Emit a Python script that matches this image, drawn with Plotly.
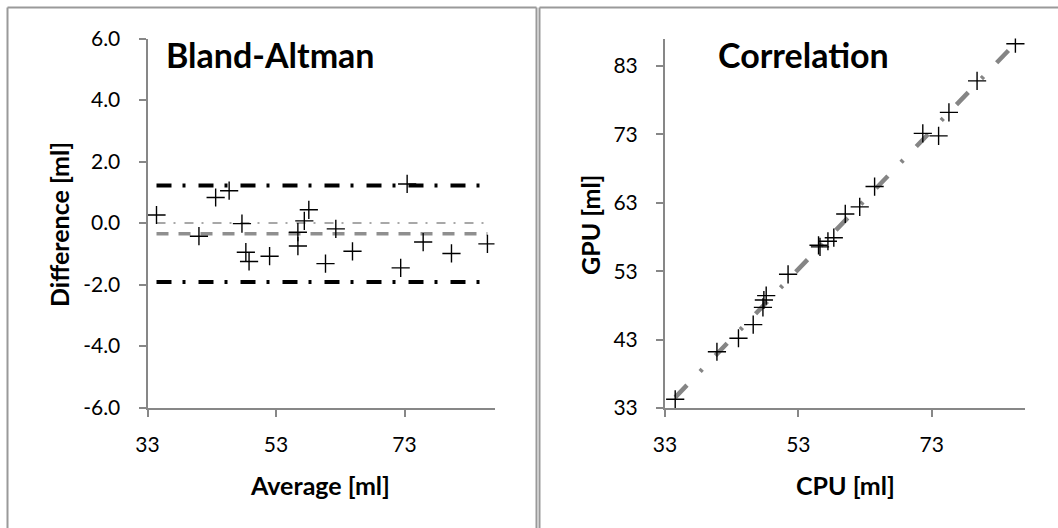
import numpy as np
import plotly.graph_objects as go

# Paired volume measurements [ml]
cpu = [34.53, 40.79, 44.02, 46.23, 47.69, 47.83, 48.18, 51.46, 56.03, 56.25,
       57.44, 58.32, 60.04, 62.21, 64.44, 71.67, 74.04, 75.59, 79.81, 85.56]
gpu = [34.27, 41.22, 43.19, 45.18, 47.71, 48.78, 49.43, 52.54, 56.78, 56.55,
       57.37, 57.89, 61.36, 62.40, 65.36, 73.13, 72.77, 76.21, 80.80, 86.24]

# Bland-Altman statistics
bias = -0.35
loa_upper = 1.22
loa_lower = -1.92

# Axis ticks
x_ticks = [33, 53, 73]
ba_y_ticks = [-6, -4, -2, 0, 2, 4, 6]
ba_y_labels = ["-6.0", "-4.0", "-2.0", "0.0", "2.0", "4.0", "6.0"]
corr_y_ticks = [33, 43, 53, 63, 73, 83]

cpu_a = np.array(cpu)
gpu_a = np.array(gpu)
average = (cpu_a + gpu_a) / 2
difference = cpu_a - gpu_a
slope, intercept = np.polyfit(cpu_a, gpu_a, 1)

W, H = 1058, 528
FONT = "Lato"
AXIS_GREY = "#878787"


def px_x(p):
    return p / W


def px_y(p):
    return 1 - p / H


fig = go.Figure()

x_lo, x_hi = average.min(), average.max()

# zero reference line
fig.add_trace(go.Scatter(x=[x_lo, x_hi], y=[0, 0], mode="lines",
                         line=dict(color="#a8a8a8", width=2, dash="9px,8px,2px,9px"),
                         xaxis="x", yaxis="y", hoverinfo="skip"))
# bias
fig.add_trace(go.Scatter(x=[x_lo, x_hi], y=[bias, bias], mode="lines",
                         line=dict(color="#8f8f8f", width=3.5, dash="12px,10px"),
                         xaxis="x", yaxis="y", hoverinfo="skip"))
# limits of agreement
for lim in (loa_upper, loa_lower):
    fig.add_trace(go.Scatter(x=[x_lo, x_hi], y=[lim, lim], mode="lines",
                             line=dict(color="#000000", width=4, dash="15px,11px,3px,13px"),
                             xaxis="x", yaxis="y", hoverinfo="skip"))

fig.add_trace(go.Scatter(x=average, y=difference, mode="markers",
                         marker=dict(symbol="cross-thin", size=13,
                                     line=dict(color="#000000", width=1.4)),
                         xaxis="x", yaxis="y"))

# regression line for the correlation panel
fx = np.array([cpu_a.min(), cpu_a.max()])
fig.add_trace(go.Scatter(x=fx, y=slope * fx + intercept, mode="lines",
                         line=dict(color="#858585", width=4.5, dash="17px,19px,3px,19px"),
                         xaxis="x2", yaxis="y2", hoverinfo="skip"))
fig.add_trace(go.Scatter(x=cpu_a, y=gpu_a, mode="markers",
                         marker=dict(symbol="cross-thin", size=13,
                                     line=dict(color="#000000", width=1.4)),
                         xaxis="x2", yaxis="y2"))

axis_common = dict(showgrid=False, zeroline=False, showline=True, automargin=False,
                   linecolor=AXIS_GREY, linewidth=2, ticks="outside",
                   ticklen=7, tickwidth=1.5, tickcolor=AXIS_GREY,
                   tickfont=dict(family=FONT, size=21, color="#000000"))

fig.update_layout(
    template="none",
    width=W, height=H,
    margin=dict(l=0, r=0, t=0, b=0, pad=0, autoexpand=False),
    paper_bgcolor="white", plot_bgcolor="white",
    showlegend=False,
    xaxis=dict(domain=[px_x(147.5), px_x(494.5)], range=[33, 87],
               tickvals=x_ticks, anchor="y", ticklabelstandoff=10, **axis_common),
    yaxis=dict(domain=[px_y(407.5), px_y(38.5)], range=[-6, 6],
               tickvals=ba_y_ticks, ticktext=ba_y_labels, anchor="x",
               ticklabelstandoff=14, **axis_common),
    xaxis2=dict(domain=[px_x(665), px_x(1025)], range=[33, 87],
                tickvals=x_ticks, anchor="y2", ticklabelstandoff=10, **axis_common),
    yaxis2=dict(domain=[px_y(408), px_y(38.5)], range=[33, 87],
                tickvals=corr_y_ticks, anchor="x2", ticklabelstandoff=14, **axis_common),
)

# panel frames (open at the bottom and at the right edge)
edge = dict(type="line", xref="paper", yref="paper",
            line=dict(color="#9a9a9a", width=2))
fig.add_shape(x0=px_x(7.5), x1=px_x(536.5), y0=px_y(7.5), y1=px_y(7.5), **edge)
fig.add_shape(x0=px_x(7.5), x1=px_x(7.5), y0=0, y1=px_y(7.5), **edge)
fig.add_shape(x0=px_x(536.5), x1=px_x(536.5), y0=0, y1=px_y(7.5), **edge)
fig.add_shape(x0=px_x(539.5), x1=1, y0=px_y(7.5), y1=px_y(7.5), **edge)
fig.add_shape(x0=px_x(539.5), x1=px_x(539.5), y0=0, y1=px_y(7.5), **edge)

title_font = dict(family=FONT, size=34, color="#000000")
label_font = dict(family=FONT, size=25, color="#000000")

fig.add_annotation(text="<b>Bland-Altman</b>", x=px_x(164), y=px_y(55),
                   xref="paper", yref="paper", xanchor="left", yanchor="middle",
                   showarrow=False, font=title_font)
fig.add_annotation(text="<b>Correlation</b>", x=px_x(716), y=px_y(54),
                   xref="paper", yref="paper", xanchor="left", yanchor="middle",
                   showarrow=False, font=title_font)

fig.add_annotation(text="<b>Difference [ml]</b>", x=px_x(59), y=px_y(225),
                   xref="paper", yref="paper", xanchor="center", yanchor="middle",
                   textangle=-90, showarrow=False, font=label_font)
fig.add_annotation(text="<b>Average [ml]</b>", x=px_x(320), y=px_y(485),
                   xref="paper", yref="paper", xanchor="center", yanchor="middle",
                   showarrow=False, font=label_font)
fig.add_annotation(text="<b>GPU [ml]</b>", x=px_x(590), y=px_y(225),
                   xref="paper", yref="paper", xanchor="center", yanchor="middle",
                   textangle=-90, showarrow=False, font=label_font)
fig.add_annotation(text="<b>CPU [ml]</b>", x=px_x(845), y=px_y(485),
                   xref="paper", yref="paper", xanchor="center", yanchor="middle",
                   showarrow=False, font=label_font)

fig.write_html("out.html")
